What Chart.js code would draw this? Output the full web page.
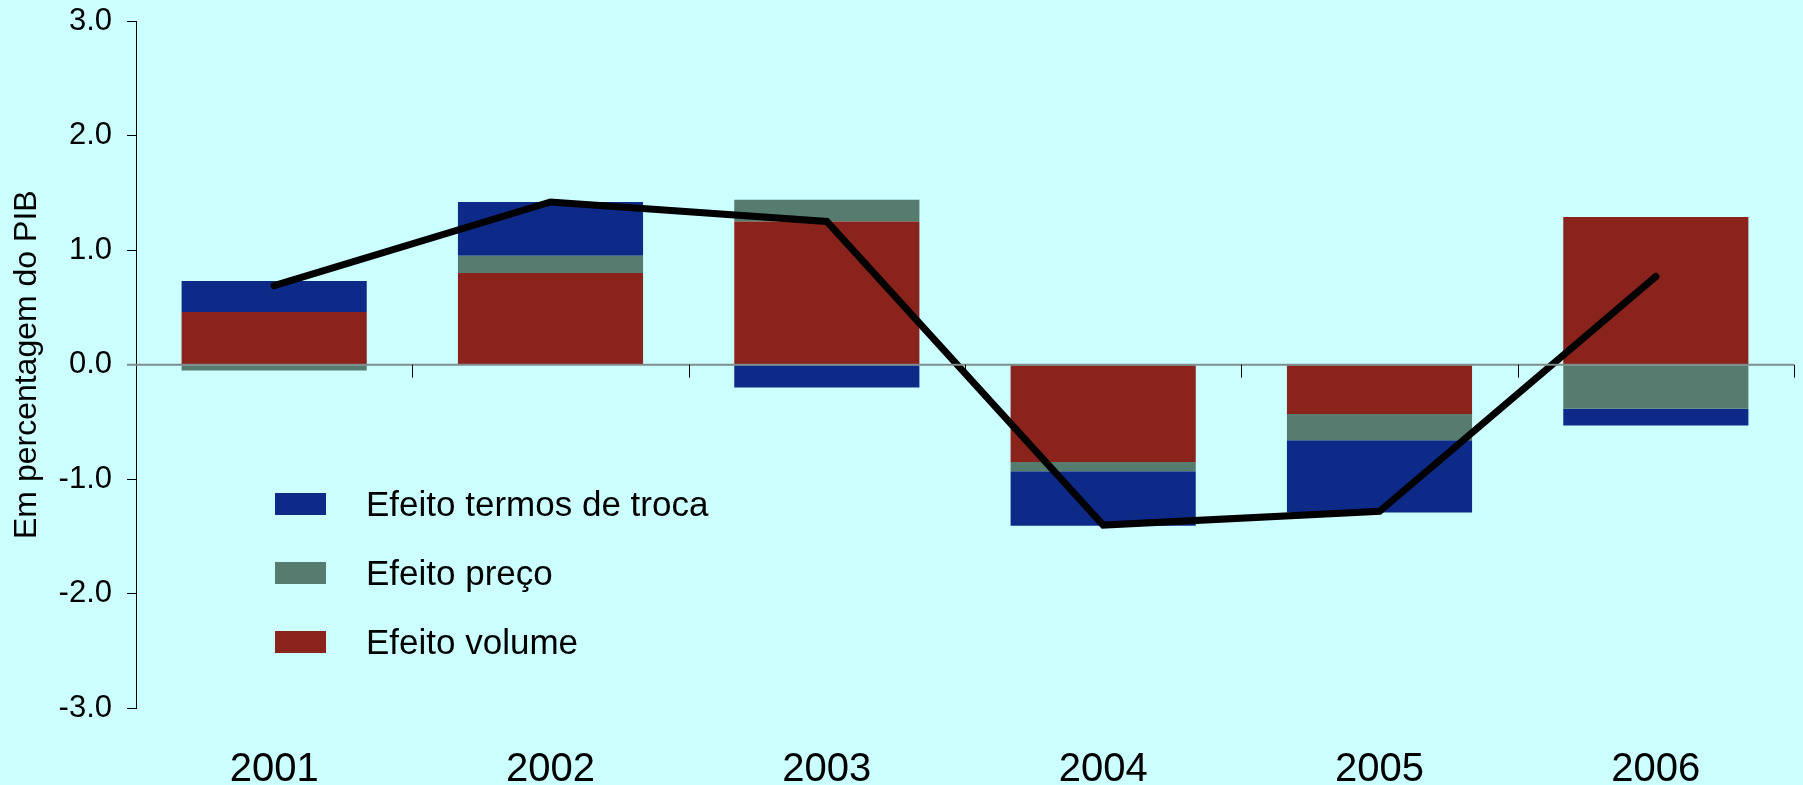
<!DOCTYPE html>
<html>
<head>
<meta charset="utf-8">
<script src="https://cdn.jsdelivr.net/npm/chart.js@4.4.1/dist/chart.umd.min.js"></script>
<style>
  html, body { margin: 0; padding: 0; background: #ccffff; }
  #wrap { position: relative; width: 1803px; height: 785px; background: #ccffff; }
  #legend { position: absolute; left: 275px; top: 469px; font-family: "Liberation Sans", Arial, sans-serif; font-size: 35px; color: #000; }
  .item { display: flex; align-items: center; height: 69px; }
  .box { width: 51px; height: 22px; margin-right: 40px; }
</style>
</head>
<body>
<div id="wrap">
  <canvas id="chart" width="1803" height="785"></canvas>
  <div id="legend"></div>
</div>
<script>
// dados (em % do PIB)
const years = ['2001', '2002', '2003', '2004', '2005', '2006'];
const volume = [0.46, 0.80, 1.25, -0.85, -0.43, 1.29];
const preco = [-0.05, 0.15, 0.19, -0.08, -0.23, -0.385];
const termos = [0.27, 0.47, -0.20, -0.475, -0.63, -0.145];
const total = [0.69, 1.42, 1.25, -1.40, -1.28, 0.77];
const yTicks = [-3, -2, -1, 0, 1, 2, 3];

const FONT = '"Liberation Sans", Arial, sans-serif';
const barSeries = [
  { label: 'Efeito volume', data: volume, color: '#89231c' },
  { label: 'Efeito preço', data: preco, color: '#567b6f' },
  { label: 'Efeito termos de troca', data: termos, color: '#0e2a88' }
];

// linha do zero + marcas do eixo x
const zeroAxis = {
  id: 'zeroAxis',
  afterDatasetsDraw(chart) {
    const { ctx, chartArea, scales: { x, y } } = chart;
    const y0 = y.getPixelForValue(0);
    ctx.save();
    ctx.strokeStyle = '#7f8c8c';
    ctx.lineWidth = 2;
    ctx.beginPath();
    ctx.moveTo(chartArea.left - 9, y0);
    ctx.lineTo(chartArea.right, y0);
    ctx.stroke();
    ctx.strokeStyle = '#000';
    ctx.lineWidth = 1;
    const n = years.length;
    for (let i = 0; i < n; i++) {
      const bx = i < n - 1 ? (x.getPixelForTick(i) + x.getPixelForTick(i + 1)) / 2 : chartArea.right;
      ctx.beginPath();
      ctx.moveTo(Math.round(bx) + 0.5, y0);
      ctx.lineTo(Math.round(bx) + 0.5, y0 + 13);
      ctx.stroke();
    }
    ctx.restore();
  }
};

const datasets = barSeries.map(s => ({
  type: 'bar',
  label: s.label,
  data: s.data,
  backgroundColor: s.color,
  borderWidth: 0,
  barPercentage: 0.67,
  categoryPercentage: 1,
  stack: 'efeitos',
  order: 2
}));
datasets.push({
  type: 'line',
  label: 'Total',
  data: total,
  borderColor: '#000',
  borderWidth: 7,
  borderCapStyle: 'round',
  pointRadius: 0,
  tension: 0,
  fill: false,
  stack: 'total',
  order: 0
});

new Chart(document.getElementById('chart'), {
  data: { labels: years, datasets },
  plugins: [zeroAxis],
  options: {
    responsive: false,
    animation: false,
    devicePixelRatio: 1,
    layout: { padding: { top: 21, right: 9, left: 0, bottom: 0 } },
    plugins: { legend: { display: false }, tooltip: { enabled: false } },
    scales: {
      x: {
        stacked: true,
        grid: { display: false, drawTicks: false },
        border: { display: false },
        ticks: { color: '#000', padding: 42, font: { family: FONT, size: 40, lineHeight: 1 } },
        afterFit(scale) { scale.height = 76.6; }
      },
      y: {
        stacked: true,
        min: -3, max: 3,
        afterBuildTicks(scale) { scale.ticks = yTicks.map(v => ({ value: v })); },
        grid: { drawOnChartArea: false, drawTicks: true, tickLength: 9, color: '#000' },
        border: { display: true, color: '#000', width: 1 },
        ticks: {
          color: '#000', padding: 15,
          font: { family: FONT, size: 31 },
          callback: v => v.toFixed(1)
        },
        title: {
          display: true, text: 'Em percentagem do PIB', color: '#000',
          font: { family: FONT, size: 32 }, padding: { top: 8, bottom: 0 }
        },
        afterFit(scale) {
          scale.width = 136;
          scale.paddingTop = 0;
          scale.paddingBottom = 0;
        }
      }
    }
  }
});

// legenda (ordem do original)
const legend = document.getElementById('legend');
[barSeries[2], barSeries[1], barSeries[0]].forEach(s => {
  const row = document.createElement('div');
  row.className = 'item';
  row.innerHTML = `<div class="box" style="background:${s.color}"></div><span>${s.label}</span>`;
  legend.appendChild(row);
});
</script>
</body>
</html>
